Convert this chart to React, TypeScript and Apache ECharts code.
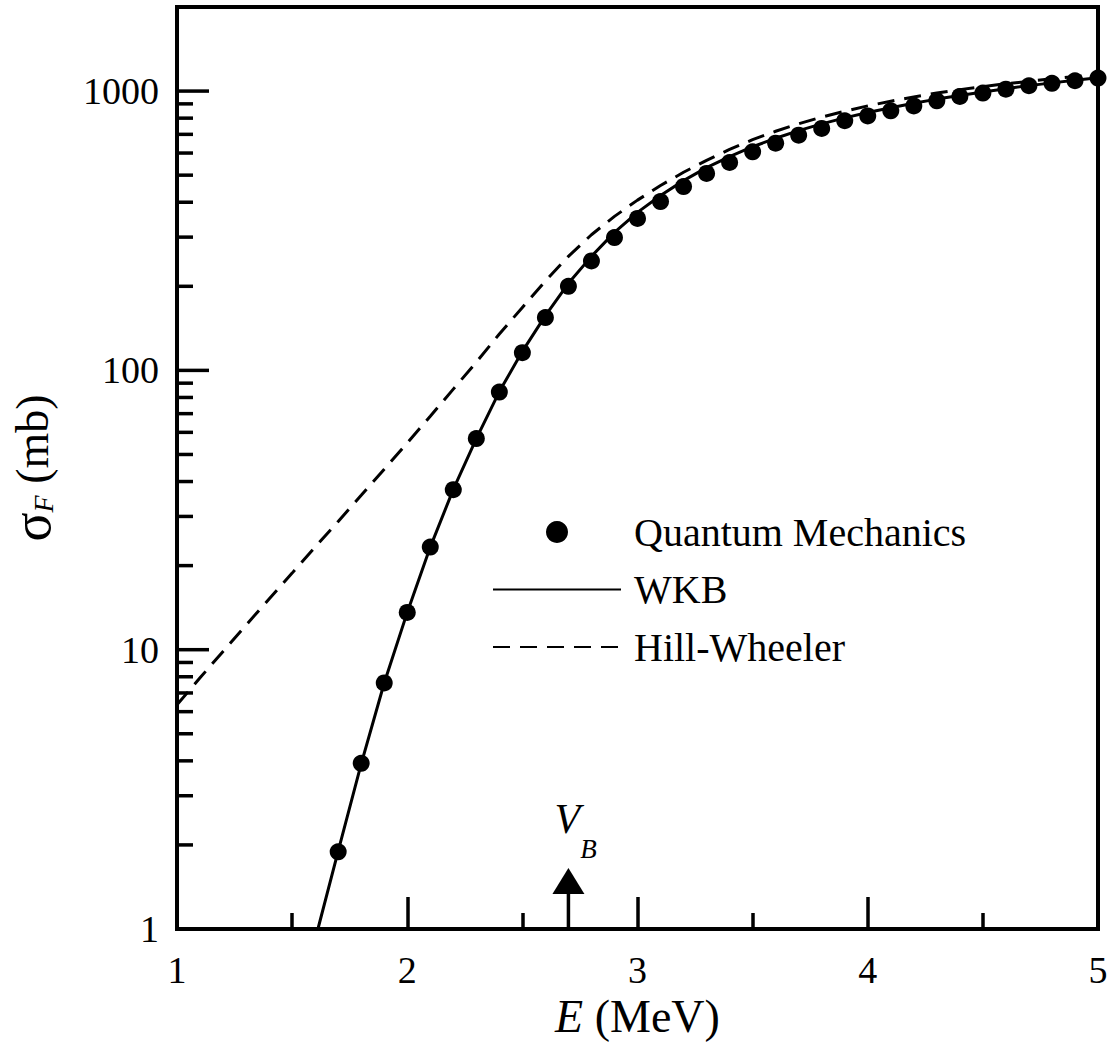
import React, { useEffect, useRef } from "react";
import * as echarts from "echarts";

const FONT = "Liberation Serif";

// Quantum mechanics points
const qmEnergy = [1.7, 1.8, 1.9, 2.0, 2.1, 2.2, 2.3, 2.4, 2.5, 2.6, 2.7, 2.8, 2.9, 3.0, 3.1, 3.2, 3.3, 3.4, 3.5, 3.6, 3.7, 3.8, 3.9, 4.0, 4.1, 4.2, 4.3, 4.4, 4.5, 4.6, 4.7, 4.8, 4.9, 5.0];
const qmSigma = [1.89, 3.92, 7.6, 13.6, 23.3, 37.4, 57, 83.6, 115.7, 154.5, 200, 246.5, 299, 350, 402, 455, 507, 555, 606, 651, 695, 735, 783, 815, 850, 885, 923, 957, 984, 1016, 1045, 1066, 1089, 1113];

// WKB curve
const wkbEnergy = [1.612, 1.7, 1.8, 1.9, 2.0, 2.1, 2.2, 2.3, 2.4, 2.5, 2.6, 2.7, 2.8, 2.9, 3.0, 3.1, 3.2, 3.3, 3.4, 3.5, 3.6, 3.7, 3.8, 3.9, 4.0, 4.1, 4.2, 4.3, 4.4, 4.5, 4.6, 4.7, 4.8, 4.9, 5.0];
const wkbSigma = [1.0, 1.9, 3.9, 7.6, 13.6, 23.3, 37.5, 57, 84, 117, 157, 205, 256, 312, 368, 423, 478, 532, 583, 632, 678, 722, 763, 802, 838, 872, 905, 936, 965, 993, 1020, 1046, 1070, 1094, 1117];

// Hill-Wheeler curve
const hwEnergy = [1.0, 1.1, 1.2, 1.3, 1.4, 1.5, 1.6, 1.7, 1.8, 1.9, 2.0, 2.1, 2.2, 2.3, 2.4, 2.5, 2.6, 2.7, 2.8, 2.9, 3.0, 3.1, 3.2, 3.3, 3.4, 3.5, 3.6, 3.7, 3.8, 3.9, 4.0, 4.1, 4.2, 4.3, 4.4, 4.5, 4.6, 4.7, 4.8, 4.9, 5.0];
const hwSigma = [6.35, 7.93, 9.86, 12.25, 15.2, 18.8, 23.3, 28.8, 35.7, 44.3, 55, 68.5, 85.7, 107, 135, 168, 209, 256, 306, 356, 407, 459, 512, 565, 618, 670, 718, 764, 807, 847, 885, 920, 953, 984, 1012, 1038, 1062, 1084, 1107, 1127, 1148];

// y-axis ticks (log)
const yMajorTicks = [1, 10, 100, 1000];
const yMinorTicks = [2, 3, 4, 5, 6, 7, 8, 9, 20, 30, 40, 50, 60, 70, 80, 90, 200, 300, 400, 500, 600, 700, 800, 900];

// barrier energy marker
const barrierE = 2.7;

const legendNames = ["Quantum Mechanics", "WKB", "Hill-Wheeler"];

export default function App() {
  const ref = useRef<HTMLDivElement>(null);

  useEffect(() => {
    if (!ref.current) return;
    const chart = echarts.init(ref.current, null, { renderer: "svg" });

    const tickData = [
      ...yMajorTicks.map((v) => [1, v, 1]),
      ...yMinorTicks.map((v) => [1, v, 0]),
    ];

    const option: any = {
      animation: false,
      backgroundColor: "#ffffff",
      textStyle: { fontFamily: FONT },
      grid: {
        left: 177,
        right: 13,
        top: 7,
        bottom: 119,
        show: true,
        borderColor: "#000",
        borderWidth: 4,
        containLabel: false,
        outerBoundsMode: "none",
      },
      legend: {
        orient: "vertical",
        left: 492,
        top: 512,
        padding: 0,
        itemWidth: 128,
        itemHeight: 22,
        itemGap: 17.5,
        selectedMode: false,
        data: [
          { name: legendNames[0] },
          { name: legendNames[1], itemStyle: { opacity: 0 } },
          { name: legendNames[2], itemStyle: { opacity: 0 } },
        ],
        textStyle: {
          fontFamily: FONT,
          fontSize: 40,
          color: "#000",
          lineHeight: 40,
          padding: [0, 0, 0, 8],
        },
      },
      xAxis: {
        type: "value",
        min: 1,
        max: 5,
        interval: 1,
        axisLine: { show: true, lineStyle: { color: "#000", width: 4 } },
        axisTick: { inside: true, length: 32, lineStyle: { color: "#000", width: 3.5 } },
        minorTick: { show: true, splitNumber: 2, length: 16, lineStyle: { color: "#000", width: 3.5 } },
        splitLine: { show: false },
        axisLabel: { color: "#000", fontSize: 38, fontFamily: FONT, margin: 22 },
        name: "{i|E} (MeV)",
        nameLocation: "middle",
        nameGap: 64,
        nameTextStyle: {
          color: "#000",
          fontFamily: FONT,
          fontSize: 46,
          rich: {
            i: { fontStyle: "italic", fontFamily: FONT, fontSize: 46, color: "#000" },
          },
        },
      },
      yAxis: {
        type: "log",
        logBase: 10,
        min: 1,
        max: 2000,
        axisLine: { show: true, lineStyle: { color: "#000", width: 4 } },
        axisTick: { show: false },
        minorTick: { show: false },
        splitLine: { show: false },
        minorSplitLine: { show: false },
        axisLabel: {
          color: "#000",
          fontSize: 38,
          fontFamily: FONT,
          margin: 18,
          formatter: (v: number) => {
            const l = Math.log10(v);
            return Math.abs(l - Math.round(l)) < 1e-6 ? String(Math.round(v)) : "";
          },
        },
        name: "{s|σ}{sub|F}{t| (mb)}",
        nameLocation: "middle",
        nameGap: 120,
        nameRotate: 90,
        nameTextStyle: {
          color: "#000",
          fontFamily: FONT,
          fontSize: 46,
          rich: {
            s: { fontFamily: FONT, fontSize: 54, lineHeight: 50, color: "#000" },
            sub: { fontFamily: FONT, fontSize: 28, fontStyle: "italic", lineHeight: 28, verticalAlign: "bottom", color: "#000" },
            t: { fontFamily: FONT, fontSize: 46, lineHeight: 50, color: "#000" },
          },
        },
      },
      series: [
        {
          name: "Quantum Mechanics",
          type: "scatter",
          data: qmEnergy.map((e, i) => [e, qmSigma[i]]),
          symbol: "circle",
          symbolSize: 17,
          itemStyle: { color: "#000", opacity: 1 },
          z: 4,
        },
        {
          name: "WKB",
          type: "line",
          data: wkbEnergy.map((e, i) => [e, wkbSigma[i]]),
          symbol: "none",
          showSymbol: false,
          color: "#000",
          lineStyle: { color: "#000", width: 3 },
          z: 3,
        },
        {
          name: "Hill-Wheeler",
          type: "line",
          data: hwEnergy.map((e, i) => [e, hwSigma[i]]),
          symbol: "none",
          showSymbol: false,
          color: "#000",
          lineStyle: { color: "#000", width: 3, type: [17, 10] },
          z: 3,
        },
        {
          name: "yticks",
          type: "custom",
          silent: true,
          clip: false,
          data: tickData,
          encode: { x: 0, y: 1 },
          renderItem: (params: any, api: any) => {
            const p = api.coord([api.value(0), api.value(1)]);
            const major = api.value(2) === 1;
            const x0 = params.coordSys.x;
            return {
              type: "line",
              shape: { x1: x0, y1: p[1], x2: x0 + (major ? 32 : 16), y2: p[1] },
              style: { stroke: "#000", lineWidth: 3.5 },
            };
          },
          z: 5,
        },
        {
          name: "barrier",
          type: "custom",
          silent: true,
          clip: false,
          data: [[barrierE, 1]],
          encode: { x: 0, y: 1 },
          renderItem: (params: any, api: any) => {
            const p = api.coord([api.value(0), api.value(1)]);
            const x = p[0];
            const y = p[1];
            return {
              type: "group",
              children: [
                {
                  type: "line",
                  shape: { x1: x, y1: y, x2: x, y2: y - 36 },
                  style: { stroke: "#000", lineWidth: 3.5 },
                },
                {
                  type: "polygon",
                  shape: { points: [[x - 16, y - 35], [x + 16, y - 35], [x, y - 61]] },
                  style: { fill: "#000" },
                },
                {
                  type: "text",
                  style: {
                    text: "V",
                    x: x - 1,
                    y: y - 110,
                    fontSize: 42,
                    fontFamily: FONT,
                    fontStyle: "italic",
                    fill: "#000",
                    align: "center",
                    verticalAlign: "middle",
                  },
                },
                {
                  type: "text",
                  style: {
                    text: "B",
                    x: x + 20,
                    y: y - 80,
                    fontSize: 27,
                    fontFamily: FONT,
                    fontStyle: "italic",
                    fill: "#000",
                    align: "center",
                    verticalAlign: "middle",
                  },
                },
              ],
            };
          },
          z: 5,
        },
      ],
    };

    chart.setOption(option);
    return () => {
      chart.dispose();
    };
  }, []);

  return (
    <div
      ref={ref}
      style={{ position: "fixed", left: 0, top: 0, width: 1111, height: 1048, background: "#fff" }}
    />
  );
}
